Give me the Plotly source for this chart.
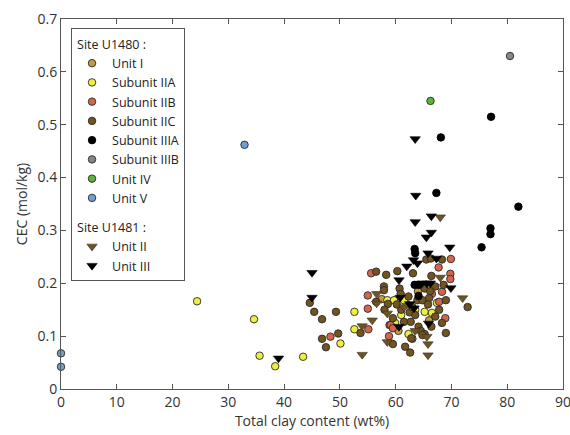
import plotly.graph_objects as go

# ---- data (Total clay wt%, CEC mol/kg) ----
unit1_x = [57.5, 62.0, 64.0, 66.0, 60.5, 63.0]
unit1_y = [0.170, 0.160, 0.185, 0.130, 0.110, 0.095]

iia_x = [24.4, 34.6, 35.6, 38.4, 43.4, 50.1, 52.6, 52.6, 58.5, 59.7, 61.5, 67.4, 65.2, 66.5, 59.9, 62.3, 63.5, 61.0]
iia_y = [0.166, 0.132, 0.063, 0.043, 0.061, 0.086, 0.146, 0.113, 0.168, 0.168, 0.168, 0.163, 0.146, 0.144, 0.125, 0.104, 0.150, 0.140]

iib_x = [48.3, 55.1, 55.0, 55.0, 55.6, 58.9, 58.8, 69.9, 67.7, 69.8, 69.8, 68.3, 68.9, 59.1, 66.5, 67.8, 59.5]
iib_y = [0.099, 0.113, 0.152, 0.177, 0.219, 0.121, 0.100, 0.246, 0.230, 0.218, 0.208, 0.184, 0.134, 0.121, 0.180, 0.165, 0.115]

iic_x = [44.6, 45.4, 46.8, 49.3, 46.8, 49.7, 47.5, 53.7, 56.5, 58.3, 57.9, 57.9, 58.6, 60.3, 63.1, 65.5,
         66.3, 68.3, 66.4, 68.6, 60.7, 60.9, 65.2, 67.1, 66.2, 62.3, 63.9, 64.8, 66.0, 69.0, 59.5, 61.5,
         62.7, 64.1, 64.5, 62.8, 65.2, 69.0, 59.5, 61.7, 62.6, 72.9, 67.1, 68.3, 66.4, 64.8, 61.0, 62.5,
         63.5, 65.8, 67.8, 60.2, 56.5, 58.0, 63.0]
iic_y = [0.163, 0.146, 0.132, 0.146, 0.095, 0.105, 0.079, 0.106, 0.222, 0.216, 0.194, 0.187, 0.161, 0.223, 0.219, 0.245,
         0.247, 0.245, 0.214, 0.197, 0.190, 0.180, 0.190, 0.194, 0.185, 0.175, 0.168, 0.168, 0.172, 0.168, 0.134, 0.127,
         0.127, 0.118, 0.110, 0.096, 0.104, 0.106, 0.085, 0.080, 0.069, 0.155, 0.137, 0.125, 0.118, 0.102, 0.150, 0.145,
         0.140, 0.160, 0.150, 0.160, 0.165, 0.150, 0.155]

iiia_x = [77.1, 68.1, 67.3, 82.0, 77.0, 77.0, 75.4, 63.4, 63.5, 63.4, 64.1, 64.1]
iiia_y = [0.515, 0.476, 0.371, 0.345, 0.304, 0.293, 0.268, 0.265, 0.257, 0.197, 0.197, 0.176]

iiib_x = [80.5]
iiib_y = [0.630]

u4_x = [66.25]
u4_y = [0.545]

u5_x = [32.9, 0.0, 0.0]
u5_y = [0.462, 0.0675, 0.042]

b_u2_x = [68.0, 68.0, 54.0, 55.8, 54.0, 56.6, 56.6, 58.5, 58.5, 65.6, 65.8, 65.8, 72.0, 63.5, 61.5]
b_u2_y = [0.325, 0.211, 0.119, 0.130, 0.065, 0.180, 0.162, 0.143, 0.089, 0.099, 0.085, 0.064, 0.172, 0.110, 0.155]

b_u3_x = [39.0, 45.0, 45.0, 63.5, 63.6, 66.4, 63.5, 66.4, 65.5, 69.7, 63.2, 63.9, 65.8, 67.3, 60.6,
          64.7, 65.6, 66.2, 69.9, 60.8, 62.5, 63.3, 60.6, 65.9, 62.0]
b_u3_y = [0.058, 0.220, 0.173, 0.473, 0.366, 0.327, 0.316, 0.296, 0.287, 0.268, 0.244, 0.238, 0.257, 0.247, 0.206,
          0.200, 0.200, 0.200, 0.191, 0.173, 0.161, 0.153, 0.118, 0.124, 0.232]

FONT = "Open Sans"
fig = go.Figure()

def circ(name, x, y, color, line="#2a2a2a", size=7.5):
    fig.add_trace(go.Scatter(
        x=x, y=y, mode="markers", name=name,
        legendgroup="U1480", legendgrouptitle_text="Site U1480 :",
        marker=dict(symbol="circle", size=size, color=color, line=dict(color=line, width=0.9)),
        cliponaxis=False))

def tri(name, x, y, color, line):
    fig.add_trace(go.Scatter(
        x=x, y=y, mode="markers", name=name,
        legendgroup="U1481", legendgrouptitle_text="Site U1481 :",
        marker=dict(symbol="triangle-down", size=9, color=color, line=dict(color=line, width=0.6)),
        cliponaxis=False))

circ("Unit I", unit1_x, unit1_y, "#c39a3e")
circ("Subunit IIA", iia_x, iia_y, "#eeee3c")
circ("Subunit IIB", iib_x, iib_y, "#d2664a")
circ("Subunit IIC", iic_x, iic_y, "#735420")
circ("Subunit IIIA", iiia_x, iiia_y, "#000000", line="#000000")
circ("Subunit IIIB", iiib_x, iiib_y, "#858585")
circ("Unit IV", u4_x, u4_y, "#5db33a")
circ("Unit V", u5_x, u5_y, "#6d9fd2")
tri("Unit II", b_u2_x, b_u2_y, "#6b5428", "#3a2c12")
tri("Unit III", b_u3_x, b_u3_y, "#000000", "#000000")

axis_common = dict(
    showline=True, linecolor="#555555", linewidth=1, mirror="ticks",
    ticks="inside", ticklen=5, tickcolor="#555555", tickwidth=1,
    showgrid=False, zeroline=False, automargin=False,
    ticklabeloverflow="allow",
    tickfont=dict(family=FONT, size=14, color="#333333"),
)

fig.update_layout(
    width=570, height=435,
    margin=dict(l=61, r=7, t=19, b=46),
    paper_bgcolor="white", plot_bgcolor="white",
    font=dict(family=FONT, size=13, color="#333333"),
    xaxis=dict(range=[0, 90], dtick=10, title=dict(text="Total clay content (wt%)", standoff=4,
               font=dict(family=FONT, size=14, color="#333333")), **axis_common),
    yaxis=dict(range=[0, 0.7], dtick=0.1, title=dict(text="CEC (mol/kg)", standoff=6,
               font=dict(family=FONT, size=14, color="#333333")), **axis_common),
    legend=dict(x=0.02, y=0.975, xanchor="left", yanchor="top",
                bordercolor="#555555", borderwidth=1, bgcolor="white",
                font=dict(family=FONT, size=12.5, color="#222222"),
                grouptitlefont=dict(family=FONT, size=12.5, color="#222222"),
                tracegroupgap=10, itemwidth=30),
    showlegend=True,
)

# remove the page's default 8px body margin so the figure fills the window exactly
fig.write_html("out.html", config={"displayModeBar": False},
               post_script="document.body.style.margin='0';")
